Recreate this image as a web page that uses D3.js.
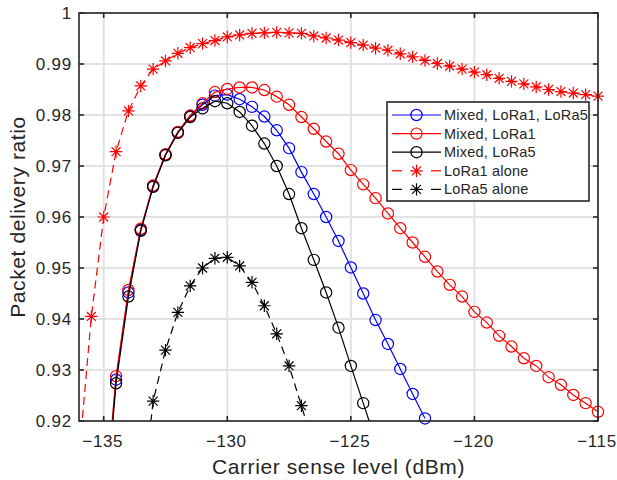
<!DOCTYPE html>
<html>
<head>
<meta charset="utf-8">
<script src="https://cdn.jsdelivr.net/npm/d3@7"></script>
<style>
  body { margin: 0; background: #fff; }
  text { font-family: "Liberation Sans", Arial, Helvetica, sans-serif; fill: #262626; }
</style>
</head>
<body>
<script>
//Width and height
var w = 617;
var h = 480;

//Chart data
var xLoRa1Alone = [-136, -135.5, -135, -134.5, -134, -133.5, -133, -132.5, -132, -131.5, -131, -130.5, -130, -129.5, -129, -128.5, -128, -127.5, -127, -126.5, -126, -125.5, -125, -124.5, -124, -123.5, -123, -122.5, -122, -121.5, -121, -120.5, -120, -119.5, -119, -118.5, -118, -117.5, -117, -116.5, -116, -115.5, -115];
var yLoRa1Alone = [0.913, 0.9405, 0.9600, 0.9728, 0.9808, 0.9857, 0.9890, 0.9906, 0.9921, 0.9932, 0.9940, 0.9946, 0.9953, 0.9957, 0.9960, 0.9961, 0.9962, 0.9961, 0.9960, 0.9955, 0.9951, 0.9947, 0.9942, 0.9937, 0.9931, 0.9927, 0.9920, 0.9914, 0.9907, 0.9901, 0.9896, 0.9890, 0.9884, 0.9879, 0.9872, 0.9866, 0.9861, 0.9855, 0.9850, 0.9846, 0.9843, 0.9840, 0.9837];

var xMixedLoRa1 = [-135, -134.5, -134, -133.5, -133, -132.5, -132, -131.5, -131, -130.5, -130, -129.5, -129, -128.5, -128, -127.5, -127, -126.5, -126, -125.5, -125, -124.5, -124, -123.5, -123, -122.5, -122, -121.5, -121, -120.5, -120, -119.5, -119, -118.5, -118, -117.5, -117, -116.5, -116, -115.5, -115];
var yMixedLoRa1 = [0.901, 0.9288, 0.9457, 0.9577, 0.9662, 0.9723, 0.9767, 0.9799, 0.9823, 0.9845, 0.9851, 0.9854, 0.9854, 0.9849, 0.9836, 0.9820, 0.9796, 0.9773, 0.9748, 0.9724, 0.9692, 0.9664, 0.9637, 0.9607, 0.9578, 0.9550, 0.9522, 0.9493, 0.9467, 0.9444, 0.9414, 0.9393, 0.9367, 0.9346, 0.9323, 0.9308, 0.9286, 0.9271, 0.9251, 0.9235, 0.9218];

var xMixedBoth = [-135, -134.5, -134, -133.5, -133, -132.5, -132, -131.5, -131, -130.5, -130, -129.5, -129, -128.5, -128, -127.5, -127, -126.5, -126, -125.5, -125, -124.5, -124, -123.5, -123, -122.5, -122];
var yMixedBoth = [0.900, 0.9281, 0.9452, 0.9575, 0.9661, 0.9722, 0.9766, 0.9798, 0.9820, 0.9838, 0.9840, 0.9831, 0.9816, 0.9797, 0.9770, 0.9735, 0.9688, 0.9645, 0.9600, 0.9553, 0.9501, 0.9450, 0.9398, 0.9351, 0.9302, 0.9253, 0.9205];

var xMixedLoRa5 = [-135, -134.5, -134, -133.5, -133, -132.5, -132, -131.5, -131, -130.5, -130, -129.5, -129, -128.5, -128, -127.5, -127, -126.5, -126, -125.5, -125, -124.5, -124];
var yMixedLoRa5 = [0.899, 0.9274, 0.9444, 0.9573, 0.9659, 0.9721, 0.9765, 0.9796, 0.9813, 0.9827, 0.9823, 0.9806, 0.9779, 0.9744, 0.9700, 0.9645, 0.9578, 0.9516, 0.9452, 0.9383, 0.9308, 0.9235, 0.9162];

var xLoRa5Alone = [-133.5, -133, -132.5, -132, -131.5, -131, -130.5, -130, -129.5, -129, -128.5, -128, -127.5, -127, -126.5];
var yLoRa5Alone = [0.902, 0.9239, 0.9339, 0.9413, 0.9465, 0.9500, 0.9519, 0.9521, 0.9504, 0.9472, 0.9426, 0.9371, 0.9308, 0.9230, 0.915];

//Tick values and labels
var xTicks = [-135, -130, -125, -120, -115];
var yTicks = [0.92, 0.93, 0.94, 0.95, 0.96, 0.97, 0.98, 0.99, 1];
var yTickLabels = ["0.92", "0.93", "0.94", "0.95", "0.96", "0.97", "0.98", "0.99", "1"];

//Legend entries, in legend order
var legendNames = ["Mixed, LoRa1, LoRa5", "Mixed, LoRa1", "Mixed, LoRa5", "LoRa1 alone", "LoRa5 alone"];

var series = [
    {name: legendNames[0], xs: xMixedBoth, ys: yMixedBoth, color: "#0000ff", dash: null, marker: "circle"},
    {name: legendNames[1], xs: xMixedLoRa1, ys: yMixedLoRa1, color: "#ff0000", dash: null, marker: "circle"},
    {name: legendNames[2], xs: xMixedLoRa5, ys: yMixedLoRa5, color: "#000000", dash: null, marker: "circle"},
    {name: legendNames[3], xs: xLoRa1Alone, ys: yLoRa1Alone, color: "#ff0000", dash: "8,5", marker: "star"},
    {name: legendNames[4], xs: xLoRa5Alone, ys: yLoRa5Alone, color: "#000000", dash: "8,5", marker: "star"}
];

//Plot box (avoid global "top", it is window.top)
var boxL = 79, boxR = 598, boxT = 13, boxB = 421;

var x = d3.scaleLinear().domain([-136, -115]).range([boxL, boxR]);
var y = d3.scaleLinear().domain([0.92, 1]).range([boxB, boxT]);

var svg = d3.select("body")
            .append("svg")
            .attr("width", w)
            .attr("height", h);

svg.append("defs").append("clipPath")
   .attr("id", "plotclip")
   .append("rect")
   .attr("x", boxL).attr("y", boxT)
   .attr("width", boxR - boxL).attr("height", boxB - boxT);

//Grid lines
var grid = svg.append("g");
grid.selectAll(".gx").data(xTicks).enter().append("line")
    .attr("x1", function(d) { return x(d); }).attr("x2", function(d) { return x(d); })
    .attr("y1", boxT).attr("y2", boxB)
    .attr("stroke", "#e2e2e2").attr("stroke-width", 2);
grid.selectAll(".gy").data(yTicks).enter().append("line")
    .attr("y1", function(d) { return y(d); }).attr("y2", function(d) { return y(d); })
    .attr("x1", boxL).attr("x2", boxR)
    .attr("stroke", "#e2e2e2").attr("stroke-width", 2);

//star marker path ('*' = plus and cross)
function starPath(r) {
    var d = 0.72 * r;
    return "M" + (-r) + ",0L" + r + ",0M0," + (-r) + "L0," + r +
           "M" + (-d) + "," + (-d) + "L" + d + "," + d +
           "M" + (-d) + "," + d + "L" + d + "," + (-d);
}

function drawMarker(g, kind, color, cx, cy) {
    if (kind == "circle") {
        g.append("circle").attr("cx", cx).attr("cy", cy).attr("r", 5.6)
         .attr("fill", "none").attr("stroke", color).attr("stroke-width", 1.2);
    } else {
        g.append("path").attr("d", starPath(6.2))
         .attr("transform", "translate(" + cx + "," + cy + ")")
         .attr("fill", "none").attr("stroke", color).attr("stroke-width", 1.2);
    }
}

var line = d3.line()
             .x(function(d) { return x(d[0]); })
             .y(function(d) { return y(d[1]); });

//Lines are clipped, markers are not (only points inside the limits get one)
series.forEach(function(s) {
    var pts = s.xs.map(function(v, i) { return [v, s.ys[i]]; });
    var g = svg.append("g");
    g.append("path")
     .attr("d", line(pts))
     .attr("clip-path", "url(#plotclip)")
     .attr("fill", "none")
     .attr("stroke", s.color)
     .attr("stroke-width", 1.2)
     .attr("stroke-dasharray", s.dash);
    pts.forEach(function(p) {
        if (p[1] >= 0.92 && p[1] <= 1 && p[0] >= -136 && p[0] <= -115) {
            drawMarker(g, s.marker, s.color, x(p[0]), y(p[1]));
        }
    });
});

//Axes box and inward ticks
var ax = svg.append("g").attr("stroke", "#262626").attr("stroke-width", 1.6);
ax.append("rect").attr("x", boxL).attr("y", boxT)
  .attr("width", boxR - boxL).attr("height", boxB - boxT).attr("fill", "none");
xTicks.forEach(function(t) {
    ax.append("line").attr("x1", x(t)).attr("x2", x(t)).attr("y1", boxB).attr("y2", boxB - 5);
    ax.append("line").attr("x1", x(t)).attr("x2", x(t)).attr("y1", boxT).attr("y2", boxT + 5);
});
yTicks.forEach(function(t) {
    ax.append("line").attr("y1", y(t)).attr("y2", y(t)).attr("x1", boxL).attr("x2", boxL + 5);
    ax.append("line").attr("y1", y(t)).attr("y2", y(t)).attr("x1", boxR).attr("x2", boxR - 5);
});

//Tick labels
svg.selectAll(".xl").data(xTicks).enter().append("text")
   .attr("x", function(d) { return x(d) - 1; })
   .attr("y", 447)
   .attr("text-anchor", "middle")
   .style("font-size", "17px").style("letter-spacing", "0.6px")
   .text(function(d) { return d3.format("d")(d).replace("-", "\u2212"); });

svg.selectAll(".yl").data(yTicks).enter().append("text")
   .attr("x", 72)
   .attr("y", function(d) { return y(d) + 6; })
   .attr("text-anchor", "end")
   .style("font-size", "17px").style("letter-spacing", "0.8px")
   .text(function(d, i) { return yTickLabels[i]; });

//Axis titles
svg.append("text")
   .attr("x", (boxL + boxR) / 2).attr("y", 474)
   .attr("text-anchor", "middle")
   .style("font-size", "21px").style("letter-spacing", "0.6px")
   .text("Carrier sense level (dBm)");

svg.append("text")
   .attr("transform", "translate(25," + ((boxT + boxB) / 2) + ") rotate(-90)")
   .attr("text-anchor", "middle")
   .style("font-size", "21px").style("letter-spacing", "0.6px")
   .text("Packet delivery ratio");

//Legend
var lg = svg.append("g");
lg.append("rect").attr("x", 387).attr("y", 102).attr("width", 202).attr("height", 99)
  .attr("fill", "#fff").attr("stroke", "#262626").attr("stroke-width", 1.6);
series.forEach(function(s, i) {
    var ly = 115 + i * 18.6;
    if (s.dash) {
        lg.append("line").attr("x1", 392).attr("x2", 402).attr("y1", ly).attr("y2", ly)
          .attr("stroke", s.color).attr("stroke-width", 1.2);
        lg.append("line").attr("x1", 431).attr("x2", 441).attr("y1", ly).attr("y2", ly)
          .attr("stroke", s.color).attr("stroke-width", 1.2);
    } else {
        lg.append("line").attr("x1", 392).attr("x2", 441).attr("y1", ly).attr("y2", ly)
          .attr("stroke", s.color).attr("stroke-width", 1.2);
    }
    drawMarker(lg, s.marker, s.color, 416.5, ly);
    lg.append("text").attr("x", 444).attr("y", ly + 5)
      .style("font-size", "14.5px").style("letter-spacing", "0.2px")
      .text(s.name);
});
</script>
</body>
</html>
